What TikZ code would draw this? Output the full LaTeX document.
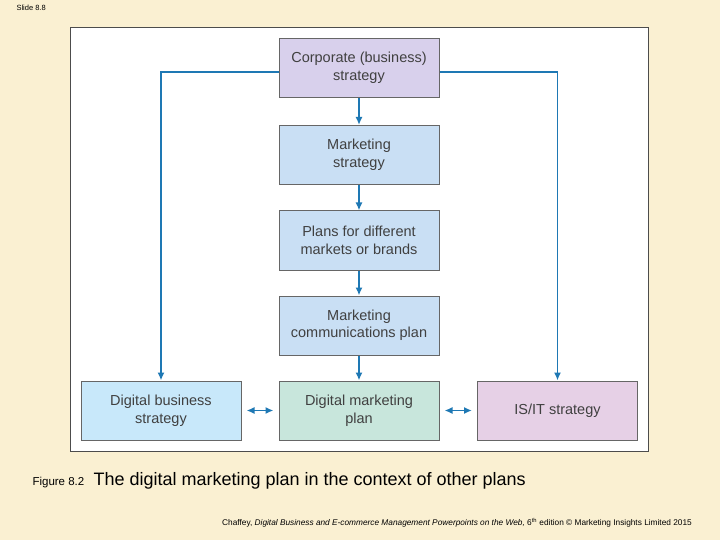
\documentclass[tikz,border=0pt]{standalone}
\usepackage{fontspec}
\setmainfont{Liberation Sans}
\usetikzlibrary{arrows.meta}
\definecolor{bg}{HTML}{FAF0D2}
\definecolor{arr}{HTML}{1E78B4}
\definecolor{cLav}{HTML}{D8D0EC}
\definecolor{cBlue}{HTML}{C9DFF4}
\definecolor{cSky}{HTML}{C8E8FA}
\definecolor{cGreen}{HTML}{C8E6DC}
\definecolor{cPink}{HTML}{E6D0E6}
\begin{document}
\begin{tikzpicture}[x=1pt,y=-1pt,
  box/.style={draw=gray!80!black,line width=1pt,minimum width=160pt,minimum height=59pt,align=center,font=\fontsize{14.5}{17.5}\selectfont,text=black!75,inner sep=0pt},
  ar/.style={arr,line width=1.8pt,-{Latex[length=8pt,width=7pt]}},
  dar/.style={arr,line width=1.8pt,{Latex[length=8pt,width=7pt]}-{Latex[length=8pt,width=7pt]}}]
\fill[bg] (0,0) rectangle (720,540);
\useasboundingbox (0,0) rectangle (720,540);
\draw[fill=white,draw=black!70,line width=1pt] (70,28) rectangle (648,451);
\node[box,fill=cLav] (corp) at (359,68) {Corporate (business)\\strategy};
\node[box,fill=cBlue] (mkt) at (359,155) {Marketing\\strategy};
\node[box,fill=cBlue] (plans) at (359,240.5) {Plans for different\\markets or brands};
\node[box,fill=cBlue] (mc) at (359,325.5) {Marketing\\communications plan};
\node[box,fill=cSky] (dbs) at (161,410.5) {Digital business\\strategy};
\node[box,fill=cGreen] (dmp) at (359,410.5) {Digital marketing\\plan};
\node[box,fill=cPink] (isit) at (557.5,410.5) {IS/IT strategy};
\draw[ar] (corp) -- (mkt);
\draw[ar] (mkt) -- (plans);
\draw[ar] (plans) -- (mc);
\draw[ar] (mc) -- (dmp);
\draw[ar] ([yshift=-4pt]corp.west) -| (dbs.north);
\draw[ar] ([yshift=-4pt]corp.east) -| (isit.north);
\draw[dar] ([xshift=5pt]dbs.east) -- ([xshift=-5pt]dmp.west);
\draw[dar] ([xshift=5pt]dmp.east) -- ([xshift=-5pt]isit.west);
\node[anchor=west,font=\fontsize{7.5}{8}\selectfont] (sl) at (13,8) {Slide 8.8};
\node[anchor=base west,font=\fontsize{11.5}{13}\selectfont] (fig) at (29,485) {Figure 8.2};
\node[anchor=base west,font=\fontsize{18}{20}\selectfont] (cap) at (90,485) {The digital marketing plan in the context of other plans};
\node[anchor=base east,font=\fontsize{8.3}{9}\selectfont,inner sep=0pt] (ft) at (692,525) {Chaffey, \textit{Digital Business and E-commerce Management Powerpoints on the Web,} 6\textsuperscript{th} edition © Marketing Insights Limited 2015};
\end{tikzpicture}
\end{document}
